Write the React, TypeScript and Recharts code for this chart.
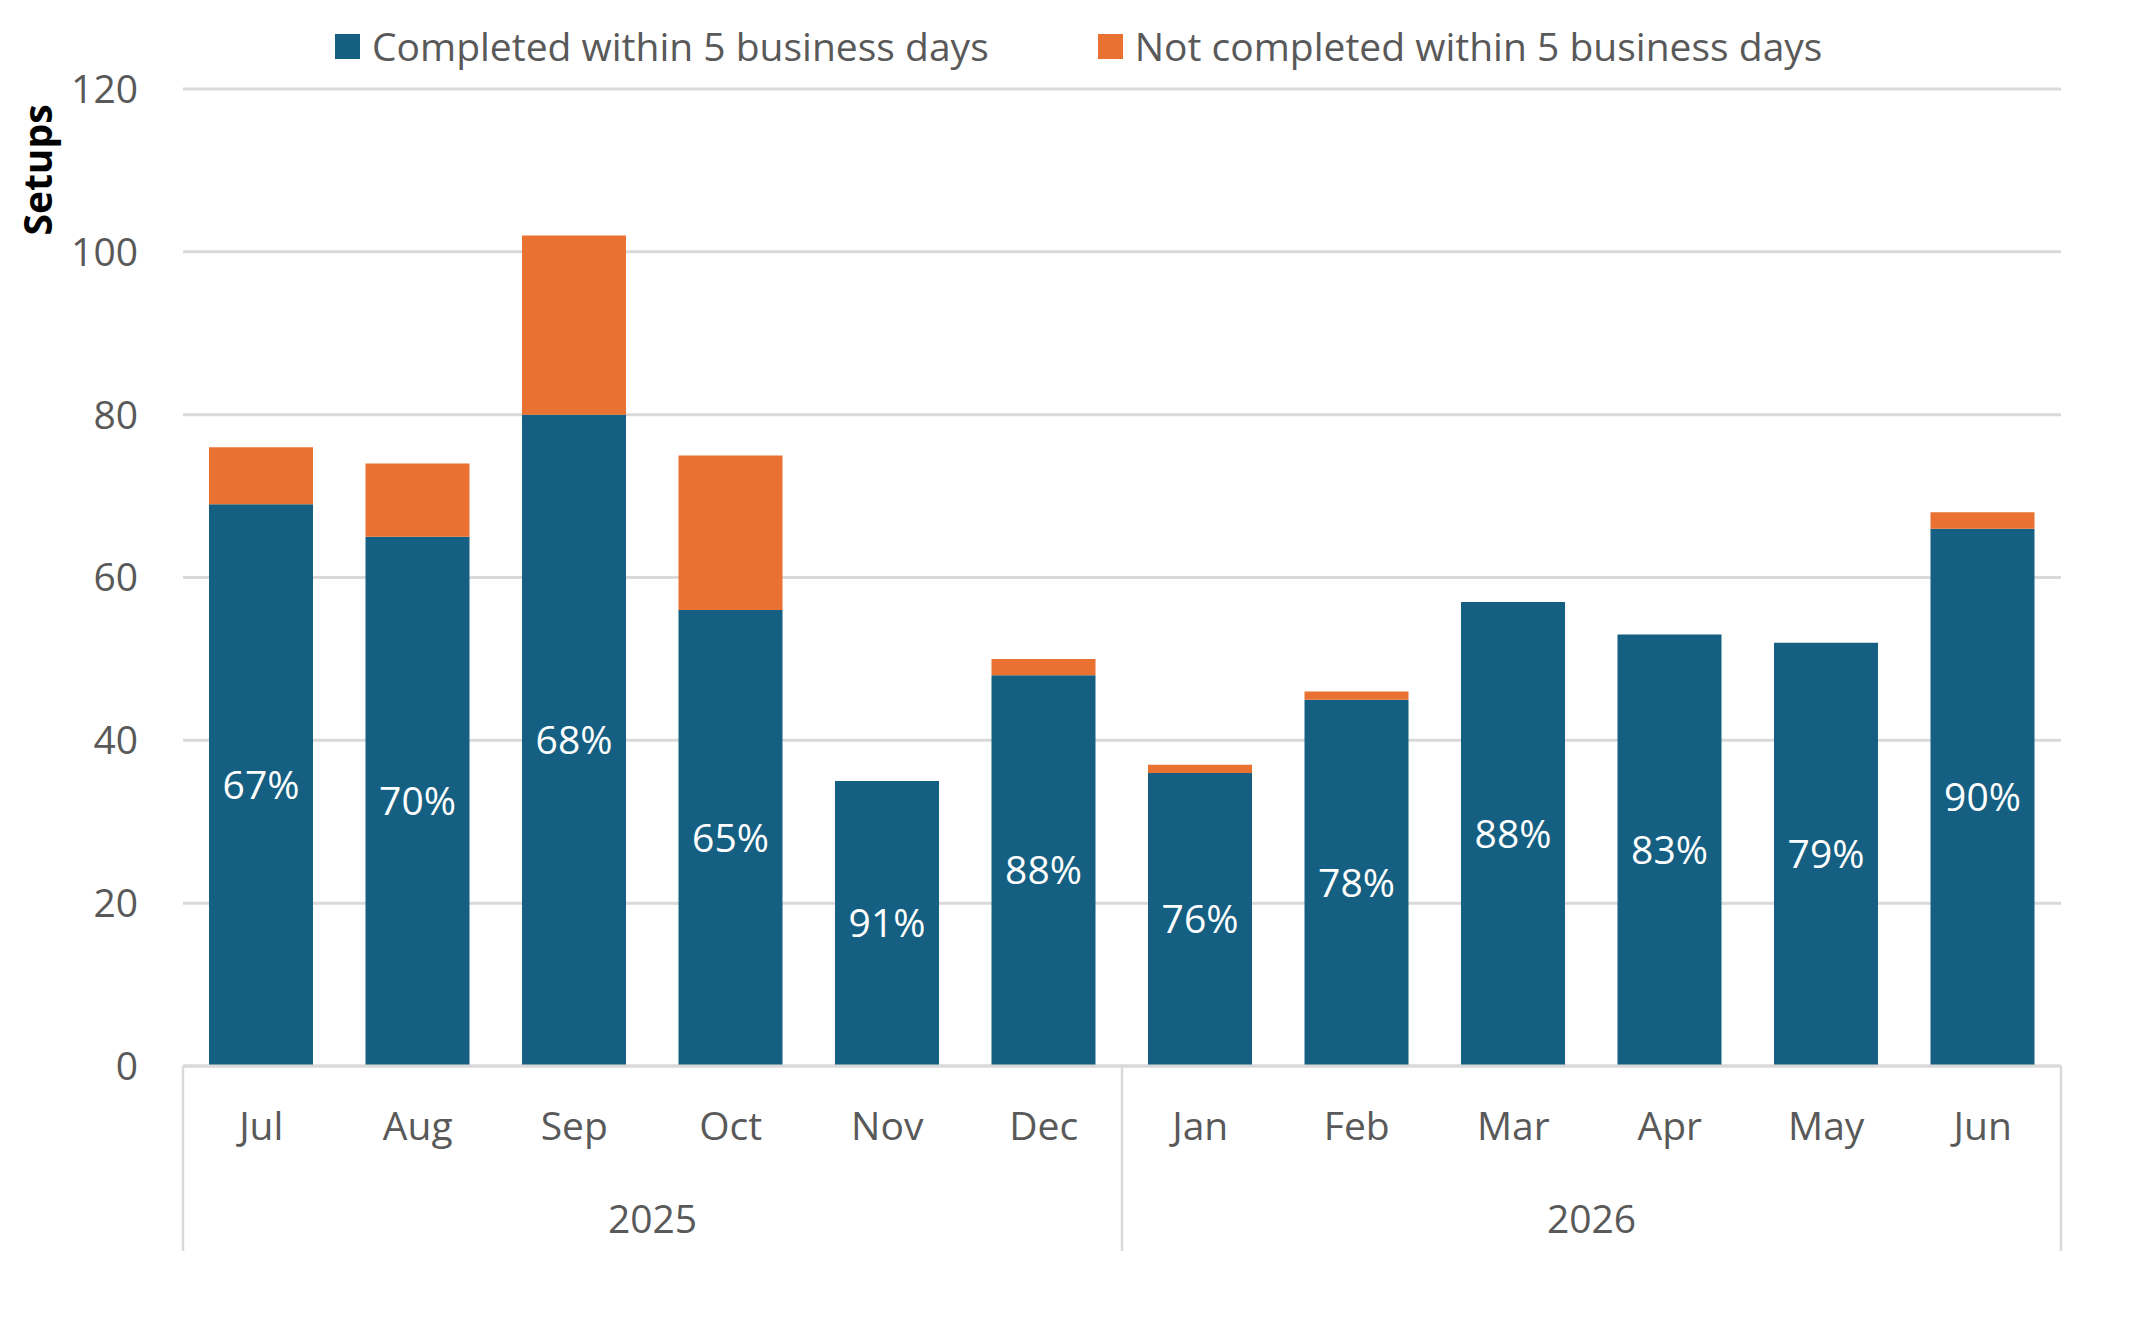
import { BarChart, Bar, XAxis, YAxis, CartesianGrid, Legend, LabelList } from 'recharts';

const months = ['Jul', 'Aug', 'Sep', 'Oct', 'Nov', 'Dec', 'Jan', 'Feb', 'Mar', 'Apr', 'May', 'Jun'];
const completed = [69, 65, 80, 56, 35, 48, 36, 45, 57, 53, 52, 66];
const notCompleted = [7, 9, 22, 19, 0, 2, 1, 1, 0, 0, 0, 2];
const pctLabels = [67, 70, 68, 65, 91, 88, 76, 78, 88, 83, 79, 90];
const years = ['2025', '2026'];
const monthsPerYear = [6, 6];
const yTicks = [0, 20, 40, 60, 80, 100, 120];

const BLUE = '#156082';
const ORANGE = '#E97132';
const TEXT = '#595959';
const GRID = '#d9d9d9';
const FONT = '"Open Sans", sans-serif';

const data = months.map((month, i) => ({
  month,
  completed: completed[i],
  notCompleted: notCompleted[i],
  pct: pctLabels[i],
}));

// month label + the year row of the two-level category axis
const MonthTick = (props: any) => {
  const { x, y, payload } = props;
  const i = payload.index;
  const half = payload.offset || 78;
  const els: any[] = [
    <text key="m" x={x} y={y + 58} textAnchor="middle" dominantBaseline="central" fill={TEXT} fontSize={39}>
      {payload.value}
    </text>,
  ];
  let start = 0;
  years.forEach((yr, g) => {
    const n = monthsPerYear[g];
    if (i === start) {
      const left = x - half;
      els.push(<line key={'l' + g} x1={left} x2={left} y1={y} y2={y + 185} stroke={GRID} strokeWidth={2.5} />);
      els.push(
        <text key={'y' + g} x={left + n * half} y={y + 151} textAnchor="middle" dominantBaseline="central" fill={TEXT} fontSize={39}>
          {yr}
        </text>
      );
    }
    if (g === years.length - 1 && i === start + n - 1) {
      els.push(<line key="r" x1={x + half} x2={x + half} y1={y} y2={y + 185} stroke={GRID} strokeWidth={2.5} />);
    }
    start += n;
  });
  return <g>{els}</g>;
};

const SetupsLabel = (props: any) => {
  const vb = props.viewBox || { x: 0, y: 89 };
  const cx = vb.x + 36;
  const cy = vb.y + 81;
  return (
    <text
      x={cx}
      y={cy}
      transform={`rotate(-90, ${cx}, ${cy})`}
      textAnchor="middle"
      dominantBaseline="central"
      fontSize={39}
      fontWeight={700}
      fill="#000"
    >
      Setups
    </text>
  );
};

const LegendBox = ({ payload }: any) => (
  <div style={{ display: 'flex', alignItems: 'center', height: 52, paddingLeft: 335, gap: 109 }}>
    {(payload || []).map((entry: any) => (
      <div key={entry.value} style={{ display: 'flex', alignItems: 'center' }}>
        <div style={{ width: 25, height: 25, backgroundColor: entry.color, marginRight: 12 }} />
        <span style={{ fontSize: 39, color: TEXT, whiteSpace: 'nowrap', lineHeight: '52px' }}>{entry.value}</span>
      </div>
    ))}
  </div>
);

export default function App() {
  return (
    <div style={{ width: 2143, height: 1319, background: '#fff', fontFamily: FONT }}>
      <style>{'body{margin:0;background:#fff}'}</style>
      <BarChart width={2143} height={1319} data={data} margin={{ top: 89, right: 82, bottom: 0, left: 0 }}>
        <CartesianGrid vertical={false} stroke={GRID} strokeWidth={3} />
        <XAxis
          dataKey="month"
          interval={0}
          height={253}
          tickLine={false}
          tickSize={0}
          tickMargin={0}
          axisLine={{ stroke: GRID, strokeWidth: 3 }}
          tick={<MonthTick />}
        />
        <YAxis
          width={183}
          domain={[0, 120]}
          ticks={yTicks}
          axisLine={false}
          tickLine={false}
          tickSize={0}
          tickMargin={45}
          tick={{ fill: TEXT, fontSize: 39 }}
          label={<SetupsLabel />}
        />
        <Legend
          verticalAlign="middle"
          align="center"
          wrapperStyle={{ top: 20, left: 0, width: 2143 }}
          content={<LegendBox />}
        />
        <Bar dataKey="completed" name="Completed within 5 business days" stackId="a" fill={BLUE} barSize={104} isAnimationActive={false}>
          <LabelList dataKey="pct" position="center" fill="#fff" fontSize={39} formatter={(v: any) => `${v}%`} />
        </Bar>
        <Bar dataKey="notCompleted" name="Not completed within 5 business days" stackId="a" fill={ORANGE} barSize={104} isAnimationActive={false} />
      </BarChart>
    </div>
  );
}
